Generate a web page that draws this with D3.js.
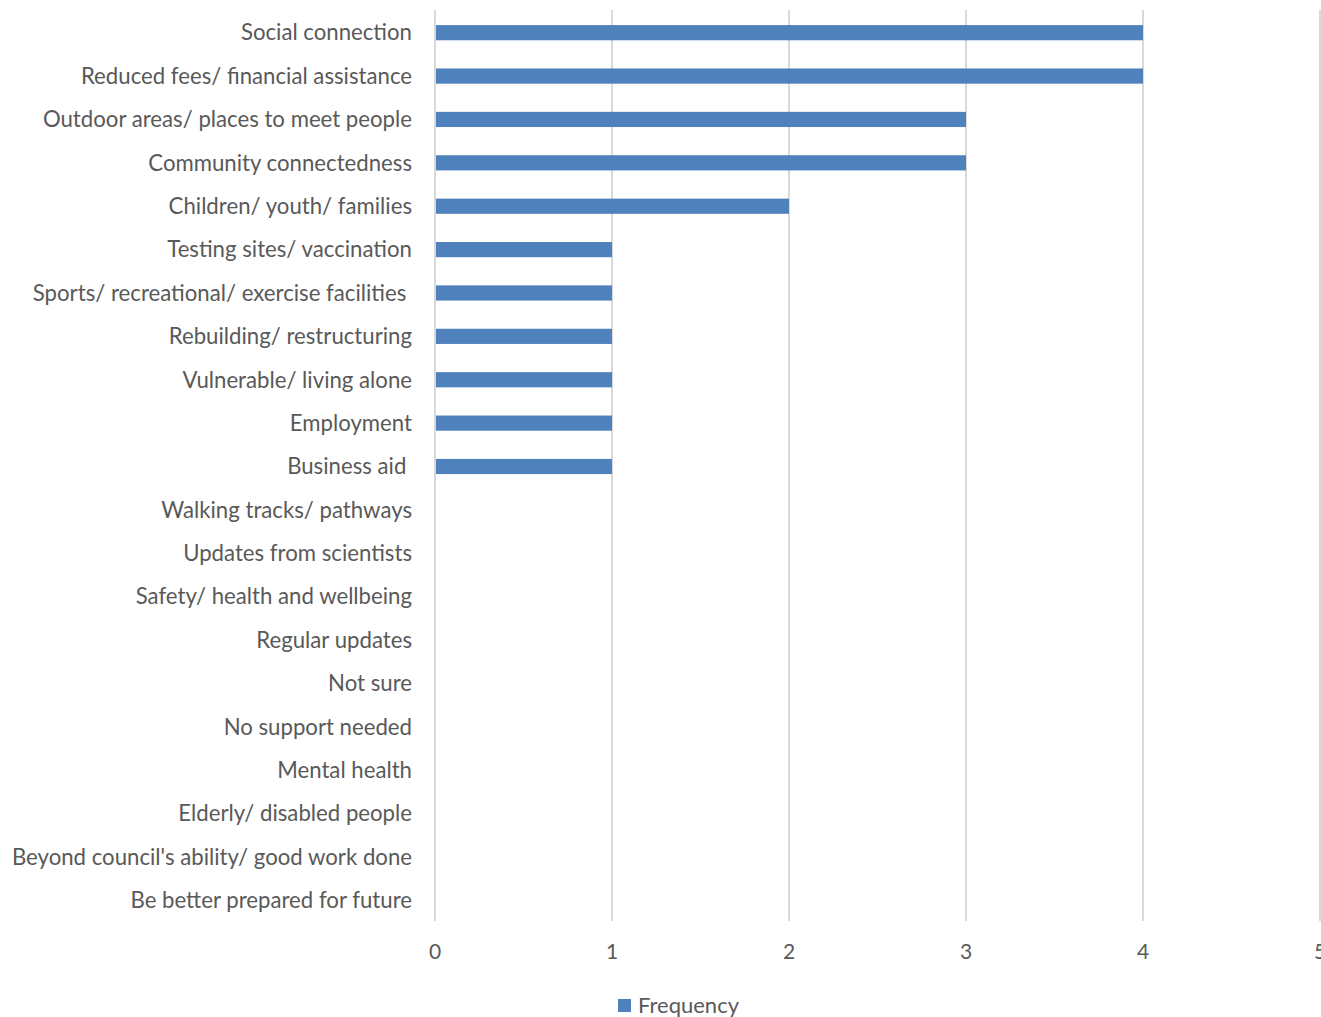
<!DOCTYPE html>
<html>
<head>
<meta charset="utf-8">
<script src="https://cdn.jsdelivr.net/npm/d3@7"></script>
<style>
  body { margin: 0; background: #fff; }
  text { font-family: Lato, "Open Sans", sans-serif; fill: #595959; }
</style>
</head>
<body>
<svg id="chart" width="1321" height="1017"></svg>
<script>
// categories, top to bottom
var categories = [
    "Social connection",
    "Reduced fees/ financial assistance",
    "Outdoor areas/ places to meet people",
    "Community connectedness",
    "Children/ youth/ families",
    "Testing sites/ vaccination",
    "Sports/ recreational/ exercise facilities ",
    "Rebuilding/ restructuring",
    "Vulnerable/ living alone",
    "Employment",
    "Business aid ",
    "Walking tracks/ pathways",
    "Updates from scientists",
    "Safety/ health and wellbeing",
    "Regular updates",
    "Not sure",
    "No support needed",
    "Mental health",
    "Elderly/ disabled people",
    "Beyond council's ability/ good work done",
    "Be better prepared for future"
];
var frequency = [4, 4, 3, 3, 2, 1, 1, 1, 1, 1, 1, 0, 0, 0, 0, 0, 0, 0, 0, 0, 0];
var xTicks = [0, 1, 2, 3, 4, 5];
var seriesName = "Frequency";

var svg = d3.select('#chart');
var plotLeft = 435, plotRight = 1320, plotTop = 11, plotBottom = 922;

var x = d3.scaleLinear().domain([0, 5]).range([plotLeft, plotRight]);
var y = d3.scaleBand().domain(categories).range([plotTop, plotBottom]).paddingInner(0.65).paddingOuter(0.325);

// gridlines
svg.append('g')
    .selectAll('line')
    .data(xTicks)
    .enter()
    .append('line')
    .attr('x1', function (d) { return x(d); })
    .attr('x2', function (d) { return x(d); })
    .attr('y1', plotTop - 1)
    .attr('y2', plotBottom - 1)
    .attr('stroke', '#d9d9d9')
    .attr('stroke-width', 2);

// bars
svg.append('g')
    .selectAll('rect')
    .data(frequency)
    .enter()
    .append('rect')
    .attr('x', x(0) + 1)
    .attr('y', function (d, i) { return y(categories[i]); })
    .attr('width', function (d) { return Math.max(0, x(d) - x(0) - 1); })
    .attr('height', y.bandwidth())
    .attr('fill', '#4f81bd');

// category labels
svg.append('g')
    .selectAll('text')
    .data(categories)
    .enter()
    .append('text')
    .attr('x', plotLeft - 23)
    .attr('y', function (d) { return y(d) + y.bandwidth() / 2; })
    .attr('dy', '0.35em')
    .attr('text-anchor', 'end')
    .attr('xml:space', 'preserve')
    .style('white-space', 'pre')
    .style('font-size', '22.2px')
    .text(function (d) { return d; });

// x tick labels
svg.append('g')
    .selectAll('text')
    .data(xTicks)
    .enter()
    .append('text')
    .attr('x', function (d) { return x(d); })
    .attr('y', 952)
    .attr('dy', '0.35em')
    .attr('text-anchor', 'middle')
    .style('font-size', '21px')
    .text(function (d) { return d; });

// legend
var legend = svg.append('g').attr('transform', 'translate(618,999)');
legend.append('rect').attr('width', 13).attr('height', 13).attr('fill', '#4f81bd');
legend.append('text')
    .attr('x', 20)
    .attr('y', 6)
    .attr('dy', '0.35em')
    .style('font-size', '22px')
    .text(seriesName);
</script>
</body>
</html>
